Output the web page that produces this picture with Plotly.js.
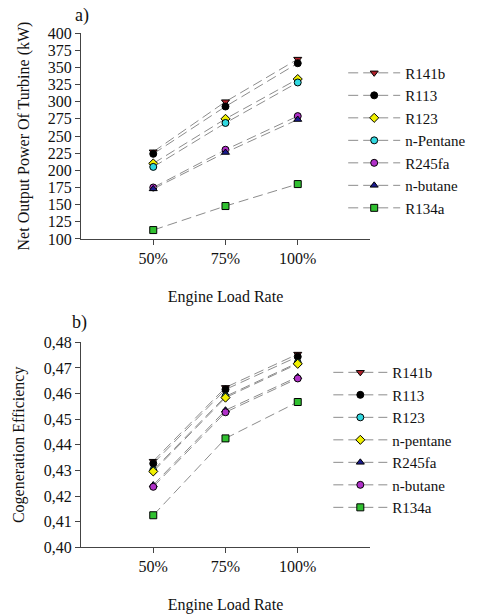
<!DOCTYPE html>
<html><head><meta charset="utf-8">
<script src="https://cdn.plot.ly/plotly-3.0.1.min.js"></script>
<style>html,body{margin:0;padding:0;background:#fff}#chart{width:480px;height:615px}</style>
</head><body><div id="chart"></div>
<script>
// ---- data ----
var loads = ["50%", "75%", "100%"];

// a) Net output power of turbine (kW)
var powerNames = ["R141b", "R113", "R123", "n-Pentane", "R245fa", "n-butane", "R134a"];
var powerR141b = [227, 300, 362];
var powerR113 = [224, 293, 356];
var powerR123 = [210, 275, 333];
var powerPentane = [205, 269, 328];
var powerR245fa = [175, 230, 279];
var powerButane = [173, 226, 274];
var powerR134a = [113, 148, 180];

// b) Cogeneration efficiency
var effNames = ["R141b", "R113", "R123", "n-pentane", "R245fa", "n-butane", "R134a"];
var effR141b = [0.4336, 0.4624, 0.4754];
var effR113 = [0.4327, 0.4616, 0.4744];
var effR123 = [0.4301, 0.4589, 0.4720];
var effPentane = [0.4296, 0.4584, 0.4716];
var effR245fa = [0.4243, 0.4535, 0.4665];
var effButane = [0.4236, 0.4527, 0.4659];
var effR134a = [0.4125, 0.4425, 0.4567];

// ---- styles ----
var FONT = "'Liberation Serif', 'Times New Roman', serif";
var LINE = {color: "#8c8c8c", width: 1, dash: "10px,5px"};
function mk(sym, col) { return {symbol: sym, color: col, size: 7, line: {color: "#000", width: 1}}; }
var sty = {
  red: mk("triangle-down", "#b0202a"),
  black: mk("circle", "#000000"),
  yellow: mk("diamond", "#f0f000"),
  cyan: mk("circle", "#30d8e0"),
  magenta: mk("circle", "#b030c8"),
  blue: mk("triangle-up", "#1a1a90"),
  green: mk("square", "#30c030")
};

function tr(name, y, m, xa, ya, lg) {
  return {x: loads, y: y, name: name, type: "scatter", mode: "lines+markers",
          line: LINE, marker: m, xaxis: xa, yaxis: ya, legend: lg};
}

var data = [
  tr(powerNames[0], powerR141b, sty.red, "x", "y", "legend"),
  tr(powerNames[1], powerR113, sty.black, "x", "y", "legend"),
  tr(powerNames[2], powerR123, sty.yellow, "x", "y", "legend"),
  tr(powerNames[3], powerPentane, sty.cyan, "x", "y", "legend"),
  tr(powerNames[4], powerR245fa, sty.magenta, "x", "y", "legend"),
  tr(powerNames[5], powerButane, sty.blue, "x", "y", "legend"),
  tr(powerNames[6], powerR134a, sty.green, "x", "y", "legend"),
  tr(effNames[0], effR141b, sty.red, "x2", "y2", "legend2"),
  tr(effNames[1], effR113, sty.black, "x2", "y2", "legend2"),
  tr(effNames[2], effR123, sty.cyan, "x2", "y2", "legend2"),
  tr(effNames[3], effPentane, sty.yellow, "x2", "y2", "legend2"),
  tr(effNames[4], effR245fa, sty.blue, "x2", "y2", "legend2"),
  tr(effNames[5], effButane, sty.magenta, "x2", "y2", "legend2"),
  tr(effNames[6], effR134a, sty.green, "x2", "y2", "legend2")
];

function xax(anchor) {
  return {domain: [0.16875, 0.7708], anchor: anchor, type: "category", range: [-1, 3],
    showgrid: false, zeroline: false, showline: true, linecolor: "#444", linewidth: 1,
    ticks: "outside", ticklen: 5, tickcolor: "#444", tickfont: {family: FONT, size: 16, color: "#111"},
    title: {text: "Engine Load Rate", font: {family: FONT, size: 16, color: "#111"}, standoff: 24}};
}
function yax(anchor, dom, rng, dt, fmt, title, so) {
  return {domain: dom, anchor: anchor, range: rng, dtick: dt, tick0: rng[0], tickformat: fmt,
    showgrid: false, zeroline: false, showline: true, linecolor: "#444", linewidth: 1,
    ticks: "outside", ticklen: 5, tickcolor: "#444", tickfont: {family: FONT, size: 16, color: "#111"},
    title: {text: title, font: {family: FONT, size: 16, color: "#111"}, standoff: so}};
}

var layout = {
  width: 480, height: 615, margin: {l: 0, r: 0, t: 0, b: 0},
  paper_bgcolor: "#fff", plot_bgcolor: "#fff", separators: ",.",
  font: {family: FONT, color: "#111"},
  xaxis: xax("y"),
  yaxis: yax("x", [0.6114, 0.9463], [100, 400], 25, "d", "Net Output Power Of Turbine (kW)", 14),
  xaxis2: xax("y2"),
  yaxis2: yax("x2", [0.1101, 0.4434], [0.40, 0.48], 0.01, ".2f", "Cogeneration Efficiency", 15),
  legend: {x: 0.715, xanchor: "left", y: 0.908, yanchor: "top", bgcolor: "rgba(0,0,0,0)",
           font: {family: FONT, size: 15, color: "#111"}, itemwidth: 52},
  legend2: {x: 0.684, xanchor: "left", y: 0.421, yanchor: "top", bgcolor: "rgba(0,0,0,0)",
           font: {family: FONT, size: 15, color: "#111"}, itemwidth: 54},
  annotations: [
    {text: "a)", xref: "paper", yref: "paper", x: 0.17, y: 1 - 15/615, xanchor: "center", yanchor: "middle",
     showarrow: false, font: {family: FONT, size: 18, color: "#111"}},
    {text: "b)", xref: "paper", yref: "paper", x: 0.165, y: 1 - 322/615, xanchor: "center", yanchor: "middle",
     showarrow: false, font: {family: FONT, size: 18, color: "#111"}}
  ]
};

Plotly.newPlot("chart", data, layout, {displayModeBar: false, staticPlot: true});
</script></body></html>
